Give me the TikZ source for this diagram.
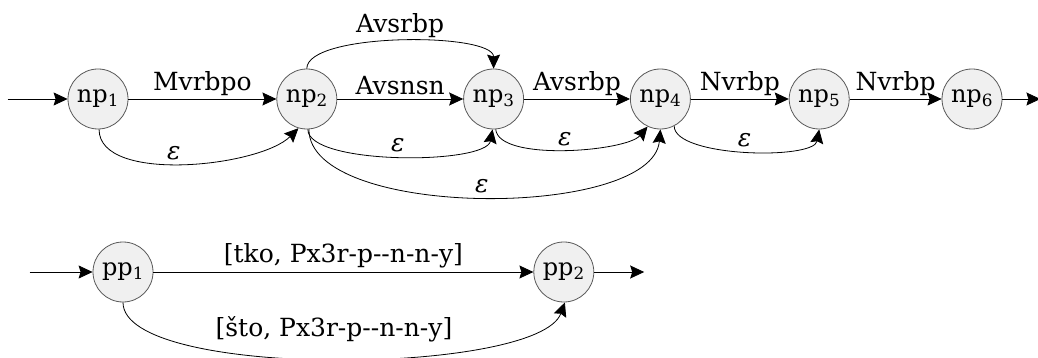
\documentclass[tikz,border=0pt]{standalone}
\usepackage{fontspec}
\setmainfont{DejaVu Serif}
\usepackage{tikz}
\usetikzlibrary{automata, positioning, arrows.meta}

\newcommand{\lblfont}{\fontsize{25}{29}\selectfont}
\newcommand{\stfont}{\fontsize{24}{28}\selectfont}
\newcommand{\eps}{{\itshape ε}}

\begin{document}
\begin{tikzpicture}[x=1pt, y=1pt, node distance=100pt, auto, line width=0.8pt,
    >={Stealth[length=14pt, width=13pt, inset=2pt]},
    every state/.style={draw=black!65, fill=black!6, minimum size=60pt, inner sep=0pt, font=\stfont},
    every initial by arrow/.style={->},
    every accepting by arrow/.style={->},
    lbl/.style={font=\lblfont}]
                \useasboundingbox (0,0) rectangle (1038,-358);

                \node[state, initial, initial text=, initial distance=60pt] (np1) at (98,-99) {np\textsubscript{1}};
                \node[state] (np2) [right=148pt of np1] {np\textsubscript{2}};
                \node[state] (np3) [right=126pt of np2] {np\textsubscript{3}};
                \node[state] (np4) [right=106pt of np3] {np\textsubscript{4}};
                \node[state] (np5) [right=98pt of np4] {np\textsubscript{5}};
                \node[state, accepting by arrow, accepting text=, accepting distance=38pt] (np6) [right=92pt of np5] {np\textsubscript{6}};

                \node[state, initial, initial text=, initial distance=63pt] (pp1) at (123,-272) {pp\textsubscript{1}};
                \node[state, accepting by arrow, accepting text=, accepting distance=50pt] (pp2) [right=380pt of pp1] {pp\textsubscript{2}};

                \path[->]
                (np1) edge node[lbl] {Mvrbpo} (np2)
                (np2) edge node[lbl] {Avsnsn} (np3)
                (np3) edge node[lbl] {Avsrbp} (np4)
                (np4) edge node[lbl] {Nvrbp} (np5)
                (np5) edge node[lbl] {Nvrbp} (np6)
                (np1.-88) edge [out=-90, in=-135, looseness=0.7] node[lbl] {\eps} (np2.-106)
                (np2.90) edge [out=90, in=90, looseness=0.5] node[lbl] {Avsrbp} (np3.90)
                (np2.-88) edge [out=-90, in=-100, looseness=0.5] node[lbl] {\eps} (np3.-92)
                (np3.-86) edge [out=-85, in=-130, looseness=0.55] node[lbl] {\eps} (np4.-115)
                (np2.-86) edge [out=-90, in=-95, looseness=0.66] node[lbl] {\eps} (np4.-90)
                (np4.-63) edge [out=-90, in=-100, looseness=0.55] node[lbl] {\eps} (np5.-90)
                (pp1) edge node[lbl] {[tko, Px3r-p-{}-n-n-y]} (pp2)
                (pp1.-90) edge [out=-90, in=-110, looseness=0.45] node[lbl, yshift=13pt] {[što, Px3r-p-{}-n-n-y]} (pp2.-88);
            \end{tikzpicture}
\end{document}
